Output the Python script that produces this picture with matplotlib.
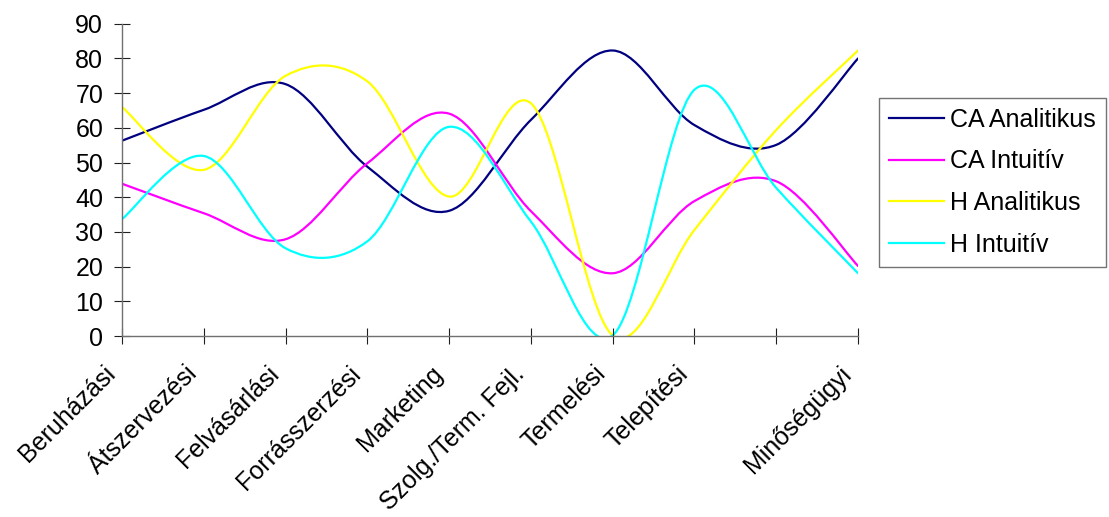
import numpy as np
import matplotlib.pyplot as plt
from matplotlib.path import Path
from matplotlib.patches import PathPatch
from matplotlib.lines import Line2D
from matplotlib.transforms import ScaledTranslation

plt.rcParams['font.family'] = ['Liberation Sans', 'DejaVu Sans']

categories = ['Beruházási', 'Átszervezési', 'Felvásárlási', 'Forrásszerzési',
              'Marketing', 'Szolg./Term. Fejl.', 'Termelési', 'Telepítési',
              '', 'Minőségügyi']

ca_analitikus = [56.3, 65.2, 72.6, 48.8, 36.1, 62.3, 82.3, 60.8, 55.1, 80.0]
ca_intuitiv = [43.9, 35.4, 27.9, 49.8, 64.1, 36.0, 18.1, 38.9, 44.6, 20.2]
h_analitikus = [66.0, 47.9, 75.0, 73.4, 40.2, 67.1, 0.2, 30.6, 59.4, 82.3]
h_intuitiv = [33.7, 51.9, 25.3, 27.3, 60.3, 33.0, 0.2, 71.0, 42.7, 18.1]

series = [('CA Analitikus', ca_analitikus, '#000080'),
          ('CA Intuitív', ca_intuitiv, '#ff00ff'),
          ('H Analitikus', h_analitikus, '#ffff00'),
          ('H Intuitív', h_intuitiv, '#00ffff')]


def smooth_path(xs, ys):
    # cubic bezier through every point, tangents like a Catmull-Rom spline
    pts = np.column_stack([xs, ys]).astype(float)
    n = len(pts)
    verts = [pts[0]]
    codes = [Path.MOVETO]
    for i in range(n - 1):
        p0 = pts[max(i - 1, 0)]
        p1 = pts[i]
        p2 = pts[i + 1]
        p3 = pts[min(i + 2, n - 1)]
        verts += [p1 + (p2 - p0) / 6, p2 - (p3 - p1) / 6, p2]
        codes += [Path.CURVE4] * 3
    return Path(verts, codes)


fig = plt.figure(figsize=(11.09, 5.17), dpi=100)
ax = fig.add_axes([0.110, 0.35, 0.6637, 0.604])

x = np.arange(len(categories))
handles = []
for name, vals, col in series:
    ax.add_patch(PathPatch(smooth_path(x, vals), fill=False, edgecolor=col,
                           linewidth=1.6, capstyle='round'))
    handles.append(Line2D([], [], color=col, linewidth=1.6, label=name))

ax.set_xlim(0, len(categories) - 1)
ax.set_ylim(0, 90)
ax.set_yticks(np.arange(0, 91, 10))
ax.set_xticks(x)
ax.set_xticklabels(categories, rotation=45, ha='right', va='top',
                   rotation_mode='anchor')

for side in ['top', 'right']:
    ax.spines[side].set_visible(False)
for side in ['left', 'bottom']:
    ax.spines[side].set_color('#707070')
    ax.spines[side].set_linewidth(1.0)

ax.tick_params(axis='both', direction='inout', length=11, width=0.8,
               color='#202020', labelsize=18)
ax.tick_params(axis='y', pad=8)
ax.tick_params(axis='x', pad=10)

# nudge the slanted category names left so their ends sit under the ticks
shift = ScaledTranslation(-0.19, -0.04, fig.dpi_scale_trans)
for lab in ax.get_xticklabels():
    lab.set_transform(lab.get_transform() + shift)

leg = fig.legend(handles=handles, loc='upper left',
                 bbox_to_anchor=(879 / 1109, 1 - 98 / 517),
                 fontsize=18, frameon=True, fancybox=False,
                 handlelength=2.2, handletextpad=0.25, labelspacing=0.7,
                 borderpad=0.4, borderaxespad=0)
leg.get_frame().set_edgecolor('#505050')
leg.get_frame().set_linewidth(1.0)

fig.savefig('out.png', dpi=100)
